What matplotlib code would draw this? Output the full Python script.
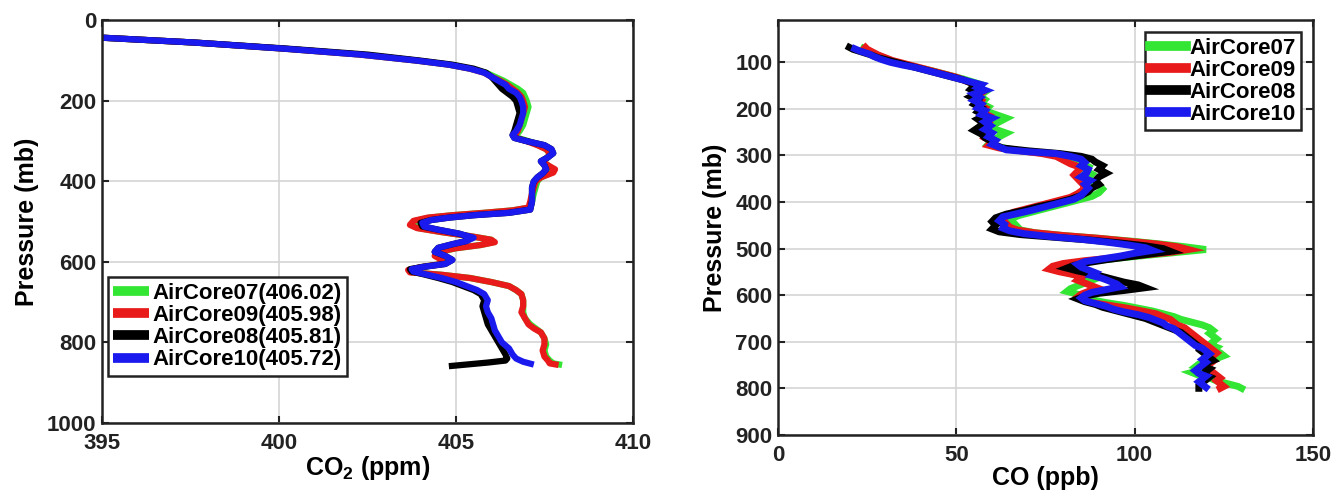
import matplotlib
matplotlib.use("Agg")
import matplotlib.pyplot as plt

plt.rcParams['font.family'] = ['Liberation Sans', 'DejaVu Sans']
plt.rcParams['font.weight'] = 'bold'
plt.rcParams['mathtext.fontset'] = 'custom'
plt.rcParams['mathtext.rm'] = 'Liberation Sans:bold'
plt.rcParams['mathtext.bf'] = 'Liberation Sans:bold'
plt.rcParams['mathtext.default'] = 'rm'

# CO2 profiles (pressure mb, CO2 ppm)
co2_ac07 = [(30, 392.5), (43, 395.0), (55, 397.6), (70, 400.1), (85, 402.3), (100, 403.9), (110, 404.8),
            (120, 405.4), (130, 405.85), (140, 406.1), (150, 406.35), (160, 406.55), (170, 406.75), (180, 406.9),
            (190, 406.95), (200, 407.0), (215, 407.05), (230, 407.0), (245, 406.95), (260, 406.9), (275, 406.8),
            (285, 406.7), (292, 406.75), (300, 407.05), (310, 407.35), (320, 407.55), (330, 407.65), (340, 407.6),
            (350, 407.45), (360, 407.6), (370, 407.75), (378, 407.7), (390, 407.4), (400, 407.3), (415, 407.25),
            (430, 407.2), (450, 407.15), (465, 407.1), (472, 406.6), (478, 405.8), (484, 404.9), (490, 404.25),
            (498, 403.85), (508, 403.75), (516, 403.95), (526, 404.6), (536, 405.4), (545, 406.0), (551, 406.05),
            (558, 405.7), (566, 405.0), (575, 404.55), (585, 404.45), (595, 404.65), (605, 404.6), (613, 404.0),
            (620, 403.7), (626, 403.75), (632, 404.6), (640, 405.4), (650, 406.0), (660, 406.5), (670, 406.7),
            (680, 406.85), (695, 406.9), (710, 406.9), (725, 406.9), (740, 406.95), (755, 407.1), (765, 407.25),
            (775, 407.4), (790, 407.5), (805, 407.55), (820, 407.5), (835, 407.55), (845, 407.65), (852, 407.75),
            (856, 408.0)]
co2_ac09 = [(30, 392.5), (43, 395.0), (55, 397.6), (70, 400.1), (85, 402.3), (100, 403.9), (110, 404.8),
            (120, 405.4), (130, 405.8), (140, 406.0), (150, 406.25), (160, 406.45), (170, 406.6), (180, 406.75),
            (190, 406.85), (200, 406.9), (215, 406.95), (230, 406.9), (245, 406.85), (260, 406.8), (275, 406.75),
            (285, 406.65), (292, 406.7), (300, 407.0), (310, 407.3), (320, 407.55), (330, 407.65), (340, 407.6),
            (350, 407.45), (360, 407.6), (370, 407.8), (378, 407.75), (390, 407.4), (400, 407.25), (415, 407.2),
            (430, 407.15), (450, 407.1), (465, 407.05), (472, 406.6), (478, 405.8), (484, 404.9), (490, 404.2),
            (498, 403.8), (508, 403.7), (516, 403.9), (526, 404.6), (536, 405.4), (545, 406.0), (551, 406.1),
            (558, 405.7), (566, 405.0), (575, 404.5), (585, 404.4), (595, 404.6), (605, 404.6), (613, 404.0),
            (620, 403.65), (626, 403.7), (632, 404.6), (640, 405.4), (650, 406.0), (660, 406.5), (670, 406.7),
            (680, 406.85), (695, 406.9), (710, 406.9), (725, 406.85), (740, 406.95), (755, 407.05), (765, 407.2),
            (775, 407.4), (790, 407.5), (805, 407.5), (820, 407.45), (835, 407.5), (845, 407.6), (852, 407.65),
            (856, 407.9)]
co2_ac08 = [(30, 392.5), (43, 395.0), (55, 397.6), (70, 400.2), (85, 402.5), (100, 404.0), (110, 404.9),
            (120, 405.5), (130, 405.85), (140, 406.0), (150, 406.1), (160, 406.2), (170, 406.3), (180, 406.45),
            (190, 406.6), (200, 406.7), (215, 406.75), (230, 406.8), (245, 406.75), (260, 406.7), (275, 406.65),
            (285, 406.6), (292, 406.65), (300, 407.0), (310, 407.5), (320, 407.7), (330, 407.75), (340, 407.6),
            (350, 407.4), (360, 407.5), (370, 407.55), (380, 407.45), (390, 407.3), (400, 407.2), (415, 407.15),
            (430, 407.15), (450, 407.15), (470, 407.1), (478, 406.5), (484, 405.5), (490, 404.8), (496, 404.3),
            (503, 404.0), (512, 404.05), (520, 404.5), (530, 405.1), (540, 405.45), (548, 405.3), (556, 404.9),
            (565, 404.5), (575, 404.4), (585, 404.7), (595, 404.9), (605, 404.7), (612, 404.1), (618, 403.7),
            (624, 403.75), (630, 404.05), (640, 404.5), (650, 404.9), (660, 405.2), (670, 405.5), (680, 405.7),
            (695, 405.8), (710, 405.75), (725, 405.8), (740, 405.85), (755, 405.9), (770, 406.0), (785, 406.1),
            (800, 406.2), (815, 406.3), (830, 406.4), (840, 406.45), (845, 406.4), (850, 405.9), (859, 404.8)]
co2_ac10 = [(30, 392.5), (43, 395.0), (55, 397.6), (70, 400.1), (85, 402.3), (100, 403.9), (110, 404.8),
            (120, 405.4), (130, 405.8), (140, 406.0), (150, 406.2), (160, 406.4), (170, 406.5), (180, 406.7),
            (190, 406.8), (200, 406.85), (215, 406.9), (230, 406.9), (245, 406.85), (260, 406.8), (275, 406.7),
            (285, 406.6), (292, 406.65), (300, 407.0), (310, 407.5), (320, 407.7), (330, 407.75), (340, 407.6),
            (350, 407.4), (360, 407.5), (370, 407.55), (380, 407.45), (390, 407.3), (400, 407.2), (415, 407.15),
            (430, 407.15), (450, 407.15), (470, 407.1), (478, 406.5), (484, 405.5), (490, 404.8), (496, 404.3),
            (503, 404.05), (512, 404.1), (520, 404.5), (530, 405.1), (540, 405.5), (548, 405.3), (556, 404.9),
            (565, 404.5), (575, 404.4), (585, 404.7), (595, 404.9), (605, 404.7), (612, 404.1), (618, 403.75),
            (624, 403.8), (630, 404.1), (640, 404.6), (650, 405.0), (660, 405.3), (670, 405.6), (680, 405.8),
            (695, 405.9), (710, 405.85), (725, 405.9), (740, 406.0), (755, 406.05), (770, 406.1), (785, 406.2),
            (800, 406.3), (815, 406.5), (830, 406.6), (840, 406.7), (848, 406.9), (855, 407.2)]

# CO profiles (pressure mb, CO ppb)
co_ac07 = [(70, 24), (76, 25.5), (82, 27), (88, 29), (94, 31), (100, 33), (106, 36), (112, 39.5), (118, 43),
           (124, 46), (130, 49), (136, 52), (142, 54.5), (148, 57), (156, 56), (164, 58), (172, 56.5), (180, 58),
           (188, 57), (196, 59), (204, 58), (212, 61), (220, 64), (228, 62), (236, 60), (244, 61), (252, 64),
           (260, 62), (268, 60), (276, 59), (282, 62), (288, 66), (294, 73), (300, 79), (308, 83), (316, 85),
           (324, 87), (332, 86), (340, 88), (348, 87), (356, 88), (364, 90), (372, 91), (380, 90), (388, 88),
           (396, 84), (404, 80), (412, 76), (420, 72), (428, 68), (436, 65), (444, 66), (452, 67), (460, 68),
           (466, 72), (472, 80), (478, 90), (484, 99), (490, 107), (496, 114), (502, 120), (508, 112), (514, 104),
           (520, 96), (526, 89), (532, 83), (538, 79), (544, 78), (550, 80), (556, 83), (562, 86), (568, 88),
           (574, 86), (580, 84), (586, 82), (592, 81), (598, 84), (604, 86), (610, 88), (616, 92), (622, 97),
           (628, 101), (634, 105), (640, 108), (646, 111), (652, 113), (658, 116), (664, 119), (670, 121),
           (676, 122), (682, 121), (688, 122), (694, 123), (700, 122), (706, 121), (712, 123), (718, 122),
           (724, 124), (730, 125), (736, 123), (742, 120), (748, 118), (754, 117), (760, 119), (766, 116),
           (772, 118), (778, 121), (784, 123), (790, 126), (796, 129), (800, 130)]
co_ac09 = [(68, 24.5), (72, 25), (78, 26.5), (84, 28), (90, 30), (96, 32), (102, 35), (108, 38), (114, 41),
           (120, 44), (126, 47), (132, 50), (138, 52), (144, 54), (150, 56), (158, 55), (166, 57), (174, 55.5),
           (182, 57), (190, 56), (198, 58), (206, 57), (214, 59), (222, 57.5), (230, 59), (238, 58), (246, 57),
           (254, 59), (262, 58), (270, 60), (278, 59), (284, 62), (290, 68), (296, 74), (302, 78), (310, 80),
           (318, 82), (326, 85), (334, 84), (342, 83), (350, 84), (358, 85), (366, 86), (374, 85.5), (382, 84),
           (390, 82), (398, 78), (406, 74), (414, 70), (422, 66), (430, 64), (438, 63), (446, 64), (454, 65),
           (460, 67), (466, 72), (472, 80), (478, 90), (484, 98), (490, 106), (496, 112), (502, 115), (508, 110),
           (514, 102), (520, 94), (526, 86), (532, 80), (538, 77), (544, 76), (550, 79), (556, 83), (562, 85),
           (568, 84), (574, 86), (580, 88), (586, 90), (592, 87), (598, 85), (604, 84), (610, 85), (616, 88),
           (622, 93), (628, 98), (634, 102), (640, 106), (646, 108), (652, 110), (658, 111), (664, 112),
           (670, 114), (676, 115), (682, 116), (688, 117), (694, 118), (700, 119), (706, 120), (712, 121),
           (718, 122), (724, 123), (730, 122), (736, 121), (742, 122), (748, 121), (754, 120), (760, 121),
           (766, 122), (772, 123), (778, 124), (784, 123), (790, 124), (796, 125), (800, 124)]
co_ac08 = [(68, 20), (72, 21), (78, 23.5), (84, 26), (90, 28), (96, 31), (102, 34), (108, 37), (114, 40),
           (120, 43), (126, 46), (132, 49), (138, 52), (144, 54), (150, 55), (158, 54), (166, 56), (174, 54),
           (182, 56), (190, 55), (198, 57), (206, 56), (214, 58), (222, 56), (230, 57.5), (238, 56.5), (246, 55),
           (254, 57), (262, 58), (270, 60), (278, 61), (284, 63), (290, 70), (296, 79), (302, 85), (308, 88),
           (314, 89), (322, 91), (330, 90), (338, 92), (346, 90), (354, 89), (362, 90), (370, 88), (378, 87),
           (386, 85), (394, 82), (402, 78), (410, 73), (418, 69), (426, 64), (434, 61), (442, 60), (450, 61),
           (458, 60), (464, 62), (470, 68), (476, 78), (482, 88), (488, 96), (494, 103), (500, 108), (506, 110),
           (512, 104), (518, 98), (524, 92), (530, 87), (536, 83), (542, 81), (548, 84), (554, 88), (560, 91),
           (566, 94), (572, 97), (578, 101), (584, 103), (590, 97), (596, 90), (602, 86), (608, 84), (614, 86),
           (620, 89), (626, 91), (632, 94), (638, 97), (644, 100), (650, 103), (656, 105), (662, 107), (668, 109),
           (674, 111), (680, 113), (686, 114), (692, 115), (698, 116), (704, 117), (710, 118), (716, 118),
           (722, 119), (728, 120), (734, 121), (740, 122), (746, 120), (752, 119), (758, 121), (764, 120),
           (770, 119), (776, 121), (782, 120), (788, 119), (794, 118), (800, 118)]
co_ac10 = [(71, 21.5), (76, 23), (82, 25.5), (88, 27), (94, 29), (100, 31.5), (106, 35), (111, 38.5), (118, 42),
           (125, 45.5), (131, 48.5), (136, 51), (142, 54), (148, 57), (154, 56), (160, 58), (168, 55), (175, 56.5),
           (182, 55), (190, 57), (198, 56), (204, 58), (212, 57), (220, 60), (228, 58), (236, 59.5), (244, 58),
           (252, 60), (260, 59), (268, 61), (276, 60), (282, 62), (288, 64), (292, 70), (296, 78), (302, 82),
           (308, 85), (315, 86), (322, 85), (330, 87), (338, 86.5), (346, 85), (354, 87.5), (362, 86), (370, 87),
           (378, 86), (386, 85), (394, 83), (402, 79), (410, 75), (418, 71), (425, 67), (432, 63), (440, 62),
           (448, 63.5), (456, 63), (462, 65), (468, 69), (474, 76), (480, 85), (486, 92), (492, 98), (498, 103),
           (504, 105), (510, 100), (516, 96), (522, 91), (528, 86), (534, 84), (540, 85), (546, 87), (552, 89),
           (558, 88), (564, 91), (570, 93), (576, 95), (582, 96), (588, 92), (594, 88), (600, 86), (606, 85),
           (612, 86), (618, 89), (624, 92), (630, 94), (636, 97), (642, 101), (648, 104), (654, 106), (660, 108),
           (666, 109), (672, 111), (678, 112), (684, 113), (690, 114), (696, 115), (702, 116), (708, 117),
           (714, 119), (720, 120), (726, 121), (732, 120), (738, 119), (744, 120), (750, 119), (756, 118),
           (762, 117), (768, 118), (774, 120), (780, 119), (786, 118), (792, 119), (798, 120)]

co2_labels = ['AirCore07(406.02)', 'AirCore09(405.98)', 'AirCore08(405.81)', 'AirCore10(405.72)']
co_labels = ['AirCore07', 'AirCore09', 'AirCore08', 'AirCore10']
colors = ['#33e633', '#e81a1a', '#000000', '#1a1aee']

fig = plt.figure(figsize=(13.44, 4.97), dpi=100)
ax1 = fig.add_axes([0.0759, 0.149, 0.395, 0.810])
ax2 = fig.add_axes([0.5789, 0.125, 0.398, 0.834])


def style(ax):
    ax.grid(True, color='#d4d4d4', lw=1.2)
    ax.set_axisbelow(True)
    ax.tick_params(direction='in', length=5, width=1.5, top=True, right=True,
                   labelsize=16, pad=4, colors='#222222')
    ax.tick_params(axis='x', pad=7)
    for s in ax.spines.values():
        s.set_linewidth(1.8)
        s.set_color('#222222')
    for lab in ax.get_xticklabels() + ax.get_yticklabels():
        lab.set_fontweight('bold')


for prof, lab, c in zip([co2_ac07, co2_ac09, co2_ac08, co2_ac10], co2_labels, colors):
    p, v = zip(*prof)
    ax1.plot(v, p, color=c, lw=4.5, label=lab, solid_capstyle='butt')
ax1.set_xlim(395, 410)
ax1.set_ylim(1000, 0)
ax1.set_xticks([395, 400, 405, 410])
ax1.set_yticks([0, 200, 400, 600, 800, 1000])
ax1.set_xlabel('CO$_2$ (ppm)', fontsize=18, fontweight='bold', labelpad=0)
ax1.set_ylabel('Pressure (mb)', fontsize=18, fontweight='bold', labelpad=6)
style(ax1)
leg1 = ax1.legend(loc='lower left', bbox_to_anchor=(0.011, 0.117), borderaxespad=0,
                  fancybox=False, edgecolor='#222222', framealpha=1, handlelength=1.6,
                  handletextpad=0.15, labelspacing=0.05, borderpad=0.25,
                  prop={'weight': 'bold', 'size': 16})
leg1.get_frame().set_linewidth(1.8)
for h in leg1.get_lines():
    h.set_linewidth(7)

for prof, lab, c in zip([co_ac07, co_ac09, co_ac08, co_ac10], co_labels, colors):
    p, v = zip(*prof)
    ax2.plot(v, p, color=c, lw=5, label=lab, solid_joinstyle='miter')
ax2.set_xlim(0, 150)
ax2.set_ylim(900, 10)
ax2.set_xticks([0, 50, 100, 150])
ax2.set_yticks([100, 200, 300, 400, 500, 600, 700, 800, 900])
ax2.set_xlabel('CO (ppb)', fontsize=18, fontweight='bold', labelpad=0)
ax2.set_ylabel('Pressure (mb)', fontsize=18, fontweight='bold', labelpad=6)
style(ax2)
leg2 = ax2.legend(loc='upper right', bbox_to_anchor=(0.978, 0.972), borderaxespad=0,
                  fancybox=False, edgecolor='#222222', framealpha=1, handlelength=1.6,
                  handletextpad=0.15, labelspacing=0.05, borderpad=0.25,
                  prop={'weight': 'bold', 'size': 16})
leg2.get_frame().set_linewidth(1.8)
for h in leg2.get_lines():
    h.set_linewidth(7)

fig.savefig('out.png', dpi=100)
